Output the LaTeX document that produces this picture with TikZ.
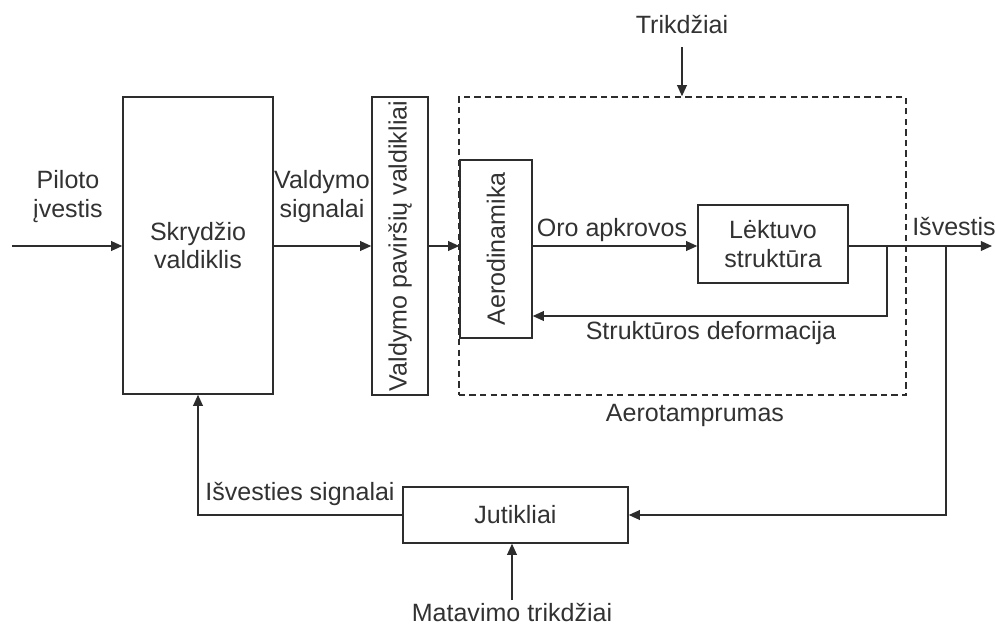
\documentclass[tikz,border=0pt]{standalone}
\usepackage{fontspec}
\setmainfont{Liberation Sans}
\usetikzlibrary{arrows.meta}
\definecolor{linec}{RGB}{45,45,45}
\definecolor{txtc}{RGB}{50,50,50}
\tikzset{
  blok/.style = {draw = linec, line width = 1pt, inner sep = 0pt, align = center, text = txtc},
  sig/.style = {draw = linec, line width = 1pt, -{Triangle[length = 8pt, width = 7pt]}},
  lbl/.style = {text = txtc, align = center, inner sep = 0pt}
}
\begin{document}
\begin{tikzpicture}[x = 0.025cm, y = -0.025cm,
  every node/.append style = {font = \fontsize{17.8}{20.6}\selectfont}]
    \useasboundingbox (0, 0) rectangle (996, 627);
    % blokai
    \node[blok, minimum width = 3.75cm, minimum height = 7.425cm] (skr) at (198, 245.5) {Skrydžio\\valdiklis};
    \node[blok, rotate = 90, minimum width = 7.45cm, minimum height = 1.4cm] (valdp) at (400, 246) {Valdymo paviršių valdikliai};
    \node[blok, dash pattern = on 4.5pt off 3pt, minimum width = 11.175cm, minimum height = 7.45cm] (aeroel) at (682.5, 246) {};
    \node[blok, rotate = 90, minimum width = 4.45cm, minimum height = 1.8cm] (aero) at (496, 249) {Aerodinamika};
    \node[blok, minimum width = 3.75cm, minimum height = 1.95cm] (lekt) at (773, 244) {Lėktuvo\\struktūra};
    \node[blok, minimum width = 5.625cm, minimum height = 1.4cm] (jut) at (515.5, 515) {Jutikliai};
    % taskai
    \coordinate (lin) at (0, 246);
    \coordinate (in) at (12, 246);
    \coordinate (out) at (992, 246);
    \coordinate (br1) at (887, 246);
    \coordinate (br2) at (946, 246);
    \coordinate (fb) at (0, 316);
    \coordinate (tr) at (682, 47);
    \coordinate (mt) at (512, 600);
    % jungtys
    \draw[sig] (in) -- (skr.west |- lin);
    \draw[sig] (skr.east |- lin) -- (valdp.north |- lin);
    \draw[sig] (valdp.south |- lin) -- (aero.north |- lin);
    \draw[sig] (aero.south |- lin) -- (lekt.west |- lin);
    \draw[sig] (lekt.east |- lin) -- (out);
    \draw[sig] (br1) |- (aero.south |- fb);
    \draw[sig] (br2) |- (jut.east);
    \draw[sig] (jut.west) -| (skr.south);
    \draw[sig] (tr) -- (aeroel.north -| tr);
    \draw[sig] (mt) -- (mt |- jut.south);
    % uzrasai
    \node[lbl] (pil) at (68, 197) {Piloto\\įvestis};
    \node[lbl] (vsig) at (322, 197) {Valdymo\\signalai};
    \node[lbl] (oro) at (612, 230) {Oro apkrovos};
    \node[lbl] (isv) at (954, 227) {Išvestis};
    \node[lbl] (def) at (711, 333) {Struktūros deformacija};
    \node[lbl] (atp) at (695, 415) {Aerotamprumas};
    \node[lbl] (isig) at (300, 494) {Išvesties signalai};
    \node[lbl] (mat) at (512, 613) {Matavimo trikdžiai};
    \node[lbl] (trk) at (682, 25) {Trikdžiai};
\end{tikzpicture}
\end{document}
